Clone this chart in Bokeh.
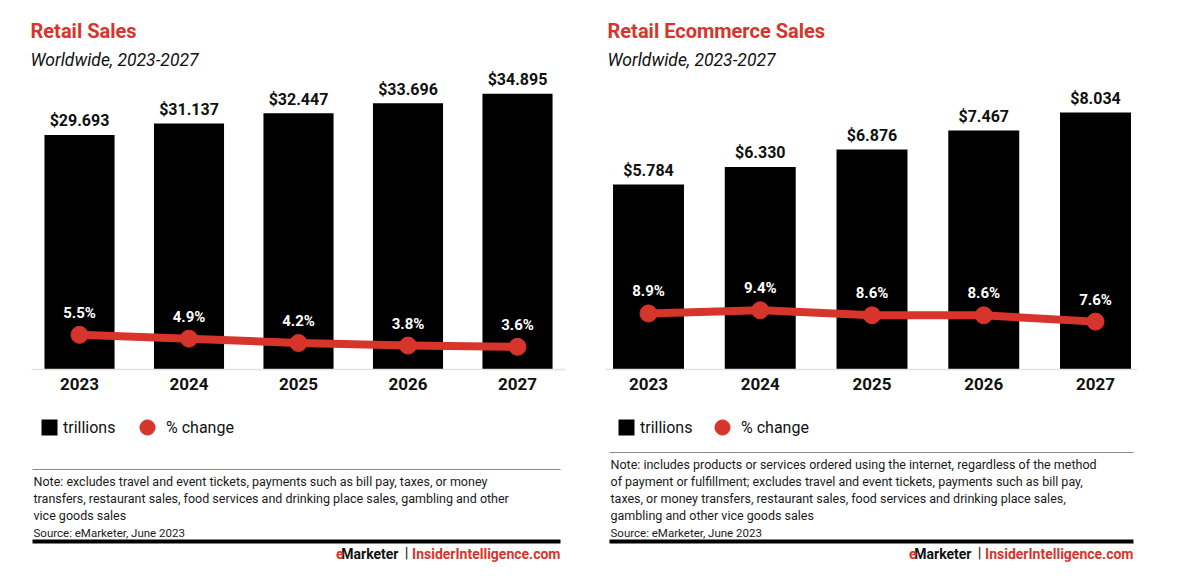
from bokeh.plotting import figure
from bokeh.models import (Range1d, FixedTicker, Label, BoxAnnotation, Legend,
                          LegendItem, ColumnDataSource)
from bokeh.layouts import row
from bokeh.embed import file_html
from bokeh.resources import INLINE
from bokeh.core.properties import value

# ---------------- data ----------------
years = ["2023", "2024", "2025", "2026", "2027"]
retail_trillions = [29.693, 31.137, 32.447, 33.696, 34.895]
retail_pct_change = [5.5, 4.9, 4.2, 3.8, 3.6]
ecom_trillions = [5.784, 6.330, 6.876, 7.467, 8.034]
ecom_pct_change = [8.9, 9.4, 8.6, 8.6, 7.6]

titles = ["Retail Sales", "Retail Ecommerce Sales"]
subtitle = "Worldwide, 2023-2027"
legend_labels = ["trillions", "% change"]
notes_retail = [
    "Note: excludes travel and event tickets, payments such as bill pay, taxes, or money",
    "transfers, restaurant sales, food services and drinking place sales, gambling and other",
    "vice goods sales",
]
notes_ecom = [
    "Note: includes products or services ordered using the internet, regardless of the method",
    "of payment or fulfillment; excludes travel and event tickets, payments such as bill pay,",
    "taxes, or money transfers, restaurant sales, food services and drinking place sales,",
    "gambling and other vice goods sales",
]
source_text = "Source: eMarketer, June 2023"

RED = "#d7352c"
INK = "#111111"
FONT = "Roboto"

W, H = 591, 582
BASE_Y = 369      # page y of the bar baseline
PCT_PX = 6.3      # pixels per percentage point


def make_panel(vals, pcts, title, notes, fig_left, axis_l, axis_r,
               center0, spacing, bar_px_per_unit, bar_w, note_rule_y,
               legend_circle_x, rule_l, rule_r):
    n = len(years)
    last_center = center0 + spacing * (n - 1)
    x_start = (fig_left - center0) / spacing
    x_end = (n - 1) + (fig_left + W - last_center) / spacing

    p = figure(width=W, height=H, output_backend="svg", toolbar_location=None,
               x_range=Range1d(x_start, x_end),
               y_range=Range1d(-(H - BASE_Y) / bar_px_per_unit, BASE_Y / bar_px_per_unit),
               y_axis_location=None, title=None)
    p.extra_y_ranges = {"pct": Range1d(-(H - BASE_Y) / PCT_PX, BASE_Y / PCT_PX)}
    p.min_border = 0
    p.min_border_left = 0
    p.min_border_right = 0
    p.min_border_top = 0
    p.min_border_bottom = 0
    p.outline_line_color = None
    p.xgrid.visible = False
    p.ygrid.visible = False
    p.background_fill_color = "white"
    p.border_fill_color = "white"

    idx = list(range(n))
    src = ColumnDataSource(dict(
        x=idx, top=vals, pct=pcts,
        vlabel=["$%.3f" % v for v in vals],
        plabel=["%.1f%%" % v for v in pcts],
    ))

    bars = p.vbar(x="x", top="top", bottom=0, width=bar_w, source=src,
                  fill_color="black", line_color=None)
    p.line(x="x", y="pct", source=src, y_range_name="pct", line_color=RED,
           line_width=8, line_join="round", line_cap="round")
    dots = p.scatter(x="x", y="pct", source=src, y_range_name="pct", size=17,
                     fill_color=RED, line_color=RED)

    p.text(x="x", y="top", text="vlabel", source=src, text_align="center",
           text_baseline="middle", y_offset=-14, text_font=value(FONT),
           text_font_style="bold", text_font_size="16px", text_color=INK)
    p.text(x="x", y="pct", text="plabel", source=src, y_range_name="pct",
           text_align="center", text_baseline="middle", y_offset=-22,
           text_font=value(FONT), text_font_style="bold",
           text_font_size="15px", text_color="white")

    ax = p.xaxis[0]
    ax.fixed_location = 0
    ax.bounds = ((axis_l - center0) / spacing, (axis_r - center0) / spacing)
    ax.ticker = FixedTicker(ticks=idx)
    ax.major_label_overrides = {i: y for i, y in zip(idx, years)}
    ax.axis_line_color = "#e2e2e2"
    ax.axis_line_width = 1.5
    ax.major_tick_line_color = None
    ax.minor_tick_line_color = None
    ax.major_tick_in = 0
    ax.major_tick_out = 0
    ax.major_label_standoff = 8
    ax.major_label_text_font = FONT
    ax.major_label_text_font_style = "bold"
    ax.major_label_text_font_size = "17px"
    ax.major_label_text_color = INK

    # page pixels -> frame-relative screen units (frame == whole figure)
    def rx(px):
        return px - fig_left

    def ry(py):
        return H - py

    def lab(text, px, py, size, style="normal", color=INK, align="left"):
        p.add_layout(Label(x=rx(px), y=ry(py), x_units="screen", y_units="screen",
                           text=text, text_font=FONT, text_font_size=size,
                           text_font_style=style, text_color=color,
                           text_align=align, text_baseline="middle"))

    def box(l, r, t, b, color):
        p.add_layout(BoxAnnotation(left=rx(l), right=rx(r), top=ry(t), bottom=ry(b),
                                   left_units="screen", right_units="screen",
                                   top_units="screen", bottom_units="screen",
                                   fill_color=color, fill_alpha=1, line_color=None))

    lab(title, rule_l - 2, 30, "20px", "bold", RED)
    lab(subtitle, rule_l - 2, 59, "17.5px", "italic", INK)

    # legend
    leg1 = Legend(items=[LegendItem(label=legend_labels[0], renderers=[bars])],
                  location=(rx(rule_l + 7), ry(437)), orientation="horizontal",
                  glyph_width=20, glyph_height=20, label_standoff=4, padding=0,
                  margin=0, spacing=0, border_line_color=None,
                  background_fill_alpha=0, label_text_font=FONT,
                  label_text_font_size="16px", label_text_color=INK)
    gw, gh = 38, 42
    leg2 = Legend(items=[LegendItem(label=legend_labels[1], renderers=[dots])],
                  location=(rx(legend_circle_x - gw / 2), ry(427 + gh / 2)),
                  orientation="horizontal",
                  glyph_width=gw, glyph_height=gh, label_standoff=0, padding=0,
                  margin=0, spacing=0, border_line_color=None,
                  background_fill_alpha=0, label_text_font=FONT,
                  label_text_font_size="16px", label_text_color=INK)
    p.add_layout(leg1)
    p.add_layout(leg2)

    # notes
    box(rule_l, rule_r, note_rule_y - 0.5, note_rule_y + 0.5, "#8a8a8a")
    y = note_rule_y + 12
    for line in notes:
        lab(line, rule_l + 1, y, "12.5px", "normal", "#1a1a1a")
        y += 17
    lab(source_text, rule_l + 1, y, "11.5px", "normal", "#1a1a1a")
    box(rule_l, rule_r, 539, 543, "black")

    # footer
    lab("InsiderIntelligence.com", rule_r, 553, "14px", "bold", RED, "right")
    lab("|", rule_r - 154, 552, "15px", "normal", INK, "center")
    lab("Marketer", rule_r - 162, 553, "14px", "bold", INK, "right")
    lab("e", rule_r - 217, 553, "14px", "bold", RED, "right")
    return p


p1 = make_panel(retail_trillions, retail_pct_change, titles[0], notes_retail,
                fig_left=0, axis_l=31, axis_r=565, center0=79, spacing=109.5,
                bar_px_per_unit=7.9, bar_w=0.64, note_rule_y=469,
                legend_circle_x=147, rule_l=32, rule_r=560)
p2 = make_panel(ecom_trillions, ecom_pct_change, titles[1], notes_ecom,
                fig_left=W, axis_l=605, axis_r=1137, center0=648, spacing=111.75,
                bar_px_per_unit=32.0, bar_w=0.635, note_rule_y=452,
                legend_circle_x=722, rule_l=609, rule_r=1133)

layout = row(p1, p2, spacing=0)
open("out.html", "w").write(file_html(layout, INLINE))
